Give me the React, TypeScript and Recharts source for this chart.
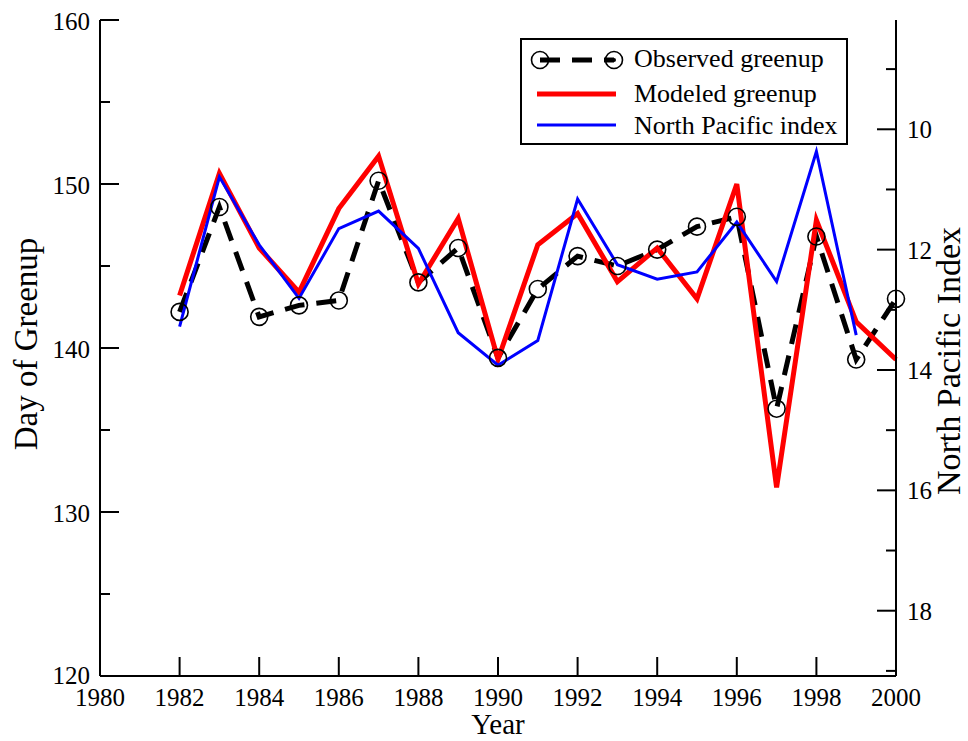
import React from 'react';
import { LineChart, Line, XAxis, YAxis, Legend } from 'recharts';

const years = [1982, 1983, 1984, 1985, 1986, 1987, 1988, 1989, 1990, 1991, 1992, 1993, 1994, 1995, 1996, 1997, 1998, 1999, 2000];
const observed = [142.2, 148.6, 141.9, 142.6, 142.9, 150.2, 144.0, 146.1, 139.4, 143.6, 145.6, 145.0, 146.0, 147.4, 148.0, 136.3, 146.8, 139.3, 143.0];
const modeled = [143.2, 150.65, 146.1, 143.4, 148.5, 151.7, 143.9, 147.9, 139.3, 146.3, 148.2, 144.05, 146.1, 143.0, 150.0, 131.5, 147.8, 141.6, 139.3];
const npi: (number | null)[] = [13.28, 10.79, 11.92, 12.81, 11.65, 11.36, 11.98, 13.38, 13.92, 13.51, 11.16, 12.25, 12.49, 12.37, 11.54, 12.53, 10.37, 13.42, null];

const xTicks = [1980, 1982, 1984, 1986, 1988, 1990, 1992, 1994, 1996, 1998, 2000];
const leftTicks = [120, 125, 130, 135, 140, 145, 150, 155, 160];
const rightTicks = [9, 10, 11, 12, 13, 14, 15, 16, 17, 18, 19];
const rightLabels = [10, 12, 14, 16, 18];

const seriesNames = { observed: 'Observed greenup', modeled: 'Modeled greenup', npi: 'North Pacific index' };

const data = years.map((year, i) => ({ year, observed: observed[i], modeled: modeled[i], npi: npi[i] }));

const FONT = "'Liberation Serif', 'Times New Roman', Times, serif";
const TICK_FS = 25;
const textStyle = { fontFamily: FONT, fontSize: TICK_FS, fill: '#000' } as React.CSSProperties;

const BottomTick = (props: any) => {
  const { x, y, payload } = props;
  return (
    <g>
      <line x1={x} y1={y} x2={x} y2={y - 19} stroke="#000" strokeWidth={2} />
      <text x={x} y={y + 30} textAnchor="middle" style={textStyle}>{payload.value}</text>
    </g>
  );
};

const TopTick = (props: any) => {
  const { x, y } = props;
  return <line x1={x} y1={y} x2={x} y2={y + 19} stroke="#000" strokeWidth={2} />;
};

const LeftTick = (props: any) => {
  const { x, y, payload } = props;
  const v = payload.value;
  const major = v % 10 === 0;
  return (
    <g>
      <line x1={x} y1={y} x2={x + (major ? 19 : 10)} y2={y} stroke="#000" strokeWidth={2} />
      {major && (
        <text x={x - 10} y={y + (v === 120 ? 8 : 10)} textAnchor="end" style={textStyle}>{v}</text>
      )}
    </g>
  );
};

const RightTick = (props: any) => {
  const { x, y, payload } = props;
  const v = payload.value;
  const major = rightLabels.includes(v);
  return (
    <g>
      <line x1={x} y1={y} x2={x - (major ? 19 : 10)} y2={y} stroke="#000" strokeWidth={2} />
      {major && (
        <text x={x + 11} y={y + 9} textAnchor="start" style={textStyle}>{v}</text>
      )}
    </g>
  );
};

const ObservedDot = (props: any) => {
  const { cx, cy, index } = props;
  if (cx == null || cy == null) return <g key={`od${index}`} />;
  return <circle key={`od${index}`} cx={cx} cy={cy} r={8.5} fill="none" stroke="#000" strokeWidth={1.6} />;
};

const legendText = { fontFamily: FONT, fontSize: 26, fill: '#000' } as React.CSSProperties;

const LegendBox = () => (
  <svg width={328} height={107} style={{ display: 'block' }}>
    <rect x={1} y={1} width={326} height={105} fill="#fff" stroke="#000" strokeWidth={2} />
    <line x1={20} y1={22} x2={94} y2={22} stroke="#000" strokeWidth={5} strokeDasharray="20 12" />
    <circle cx={20} cy={22} r={8.5} fill="none" stroke="#000" strokeWidth={1.6} />
    <circle cx={94} cy={22} r={8.5} fill="none" stroke="#000" strokeWidth={1.6} />
    <circle cx={94} cy={22} r={2} fill="#000" />
    <text x={114} y={29} style={legendText}>{seriesNames.observed}</text>
    <line x1={17} y1={56} x2={96} y2={56} stroke="#ff0000" strokeWidth={5} />
    <text x={114} y={63.5} style={legendText}>{seriesNames.modeled}</text>
    <line x1={17} y1={87} x2={96} y2={87} stroke="#0000ff" strokeWidth={3} />
    <text x={114} y={96} style={legendText}>{seriesNames.npi}</text>
  </svg>
);

export default function App() {
  return (
    <div style={{ position: 'absolute', left: 0, top: 0, width: 968, height: 741, background: '#fff' }}>
      <LineChart width={968} height={741} data={data} margin={{ top: 20, right: 0, bottom: 0, left: 40 }}>
        <XAxis
          xAxisId="b"
          dataKey="year"
          type="number"
          domain={[1980, 2000]}
          ticks={xTicks}
          interval={0}
          height={65}
          tickSize={0}
          tickMargin={0}
          tickLine={false}
          axisLine={{ stroke: '#000', strokeWidth: 2 }}
          tick={<BottomTick />}
        />
        <XAxis
          xAxisId="t"
          orientation="top"
          dataKey="year"
          type="number"
          domain={[1980, 2000]}
          ticks={xTicks.slice(1, -1)}
          interval={0}
          height={0}
          tickSize={0}
          tickMargin={0}
          tickLine={false}
          axisLine={{ stroke: '#000', strokeWidth: 2 }}
          tick={<TopTick />}
        />
        <YAxis
          yAxisId="l"
          domain={[120, 160]}
          ticks={leftTicks}
          interval={0}
          width={60}
          tickSize={0}
          tickMargin={0}
          tickLine={false}
          axisLine={{ stroke: '#000', strokeWidth: 2 }}
          tick={<LeftTick />}
        />
        <YAxis
          yAxisId="r"
          orientation="right"
          domain={[8.184, 19.085]}
          reversed
          allowDataOverflow
          ticks={rightTicks}
          interval={0}
          width={72}
          tickSize={0}
          tickMargin={0}
          tickLine={false}
          axisLine={{ stroke: '#000', strokeWidth: 2 }}
          tick={<RightTick />}
        />
        <Legend
          layout="vertical"
          align="center"
          verticalAlign="middle"
          wrapperStyle={{ position: 'absolute', left: 520, top: 38, width: 328, height: 107 }}
          content={() => <LegendBox />}
        />
        <Line
          xAxisId="b"
          yAxisId="l"
          type="linear"
          dataKey="observed"
          name={seriesNames.observed}
          stroke="#000"
          strokeWidth={5}
          strokeDasharray="20 12"
          dot={ObservedDot}
          activeDot={false}
          isAnimationActive={false}
        />
        <Line
          xAxisId="b"
          yAxisId="l"
          type="linear"
          dataKey="modeled"
          name={seriesNames.modeled}
          stroke="#ff0000"
          strokeWidth={5}
          dot={false}
          activeDot={false}
          isAnimationActive={false}
        />
        <Line
          xAxisId="b"
          yAxisId="r"
          type="linear"
          dataKey="npi"
          name={seriesNames.npi}
          stroke="#0000ff"
          strokeWidth={3}
          dot={false}
          activeDot={false}
          isAnimationActive={false}
        />
      </LineChart>
      <svg width={968} height={741} style={{ position: 'absolute', left: 0, top: 0, pointerEvents: 'none' }}>
        <text x={37} y={344} transform="rotate(-90 37 344)" textAnchor="middle" style={{ fontFamily: FONT, fontSize: 33, fill: '#000' }}>Day of Greenup</text>
        <text x={498} y={734} textAnchor="middle" style={{ fontFamily: FONT, fontSize: 29, fill: '#000' }}>Year</text>
        <text x={960} y={361} transform="rotate(-90 960 361)" textAnchor="middle" style={{ fontFamily: FONT, fontSize: 34, fill: '#000' }}>North Pacific Index</text>
      </svg>
    </div>
  );
}
